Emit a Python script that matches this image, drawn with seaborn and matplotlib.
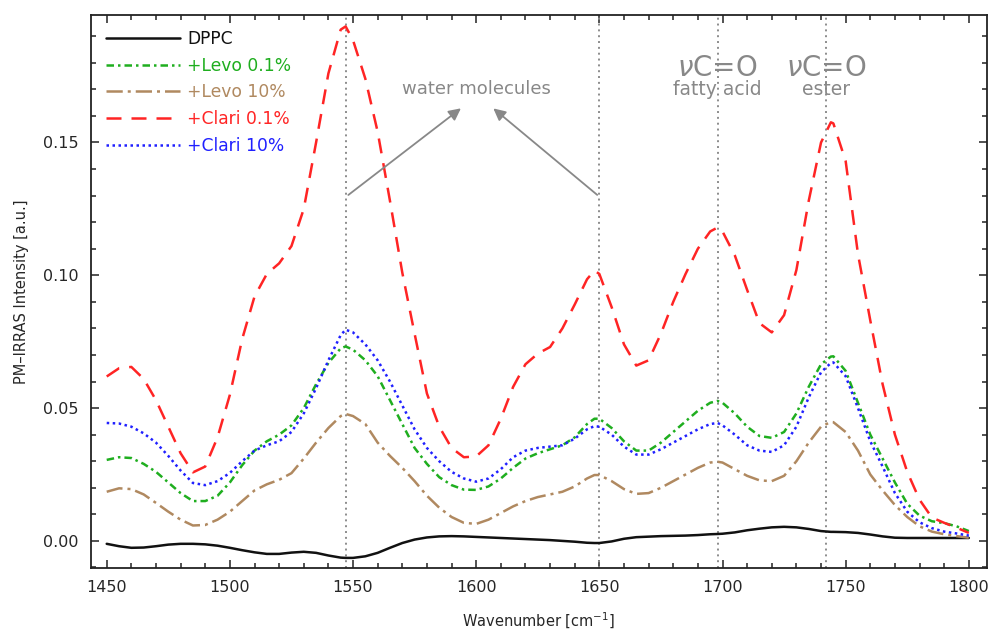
import matplotlib
matplotlib.use("Agg")
import matplotlib.pyplot as plt
from matplotlib.ticker import MultipleLocator
import pandas as pd
import seaborn as sns

# wavenumbers (cm^-1)
wn = [1450, 1455, 1460, 1465, 1470, 1475, 1480, 1485, 1490, 1495,
      1500, 1505, 1510, 1515, 1520, 1525, 1530, 1535, 1540, 1545,
      1547, 1550, 1555, 1560, 1565, 1570, 1575, 1580, 1585, 1590,
      1595, 1600, 1605, 1610, 1615, 1620, 1625, 1630, 1635, 1640,
      1645, 1648, 1650, 1655, 1660, 1665, 1670, 1675, 1680, 1685,
      1690, 1695, 1698, 1700, 1705, 1710, 1715, 1720, 1725, 1730,
      1735, 1740, 1744, 1745, 1750, 1755, 1760, 1765, 1770, 1775,
      1780, 1785, 1790, 1795, 1800]

dppc = [-0.0011, -0.0020, -0.0026, -0.0025, -0.0020, -0.0014, -0.0011, -0.0011, -0.0013, -0.0018,
        -0.0026, -0.0035, -0.0043, -0.0049, -0.0049, -0.0044, -0.0041, -0.0045, -0.0055, -0.0063,
        -0.0064, -0.0064, -0.0058, -0.0045, -0.0026, -0.0008, 0.0005, 0.0013, 0.0017, 0.0018,
        0.0017, 0.0015, 0.0013, 0.0011, 0.0009, 0.0007, 0.0005, 0.0003, 0.0000, -0.0003,
        -0.0007, -0.0008, -0.0008, -0.0002, 0.0008, 0.0014, 0.0016, 0.0018, 0.0019, 0.0020,
        0.0022, 0.0025, 0.0026, 0.0027, 0.0032, 0.0040, 0.0046, 0.0051, 0.0053, 0.0051,
        0.0045, 0.0037, 0.0034, 0.0034, 0.0033, 0.0030, 0.0024, 0.0017, 0.0012, 0.0011,
        0.0011, 0.0011, 0.0011, 0.0011, 0.0011]

levo_01 = [0.0305, 0.0315, 0.0312, 0.0290, 0.0260, 0.0220, 0.0180, 0.0150, 0.0150, 0.0170,
           0.0220, 0.0285, 0.0340, 0.0375, 0.0400, 0.0435, 0.0500, 0.0590, 0.0670, 0.0725,
           0.0732, 0.0720, 0.0680, 0.0620, 0.0530, 0.0440, 0.0350, 0.0290, 0.0240, 0.0210,
           0.0193, 0.0192, 0.0205, 0.0235, 0.0275, 0.0310, 0.0330, 0.0345, 0.0360, 0.0390,
           0.0440, 0.0460, 0.0460, 0.0425, 0.0375, 0.0340, 0.0340, 0.0370, 0.0410, 0.0450,
           0.0490, 0.0520, 0.0527, 0.0520, 0.0480, 0.0430, 0.0395, 0.0388, 0.0410, 0.0480,
           0.0580, 0.0665, 0.0694, 0.0695, 0.0640, 0.0520, 0.0400, 0.0310, 0.0220, 0.0140,
           0.0095, 0.0074, 0.0067, 0.0055, 0.0037]

levo_10 = [0.0185, 0.0198, 0.0195, 0.0175, 0.0143, 0.0110, 0.0080, 0.0058, 0.0060, 0.0080,
           0.0110, 0.0150, 0.0190, 0.0213, 0.0230, 0.0255, 0.0310, 0.0370, 0.0425, 0.0470,
           0.0478, 0.0470, 0.0440, 0.0370, 0.0320, 0.0275, 0.0225, 0.0170, 0.0125, 0.0090,
           0.0068, 0.0064, 0.0080, 0.0105, 0.0130, 0.0150, 0.0165, 0.0175, 0.0185, 0.0205,
           0.0235, 0.0248, 0.0248, 0.0225, 0.0195, 0.0177, 0.0180, 0.0200, 0.0225, 0.0250,
           0.0275, 0.0295, 0.0298, 0.0295, 0.0270, 0.0245, 0.0228, 0.0225, 0.0245, 0.0300,
           0.0370, 0.0430, 0.0448, 0.0447, 0.0410, 0.0340, 0.0250, 0.0190, 0.0135, 0.0090,
           0.0055, 0.0035, 0.0025, 0.0018, 0.0012]

clari_01 = [0.0619, 0.0650, 0.0655, 0.0610, 0.0530, 0.0430, 0.0330, 0.0258, 0.0280, 0.0390,
            0.0550, 0.0760, 0.0920, 0.1005, 0.1045, 0.1110, 0.1250, 0.1500, 0.1760, 0.1925,
            0.1937, 0.1885, 0.1740, 0.1540, 0.1280, 0.1010, 0.0780, 0.0555, 0.0430, 0.0350,
            0.0315, 0.0318, 0.0360, 0.0460, 0.0580, 0.0665, 0.0705, 0.0730, 0.0800, 0.0890,
            0.0985, 0.1018, 0.1005, 0.0880, 0.0740, 0.0660, 0.0680, 0.0780, 0.0900, 0.1005,
            0.1100, 0.1165, 0.1180, 0.1165, 0.1075, 0.0945, 0.0820, 0.0785, 0.0850, 0.1020,
            0.1280, 0.1500, 0.1576, 0.1572, 0.1430, 0.1080, 0.0830, 0.0590, 0.0400, 0.0260,
            0.0155, 0.0088, 0.0068, 0.0050, 0.0030]

clari_10 = [0.0444, 0.0442, 0.0430, 0.0405, 0.0370, 0.0320, 0.0265, 0.0218, 0.0210, 0.0225,
            0.0256, 0.0300, 0.0340, 0.0360, 0.0375, 0.0410, 0.0480, 0.0575, 0.0680, 0.0775,
            0.0795, 0.0785, 0.0740, 0.0680, 0.0600, 0.0510, 0.0420, 0.0350, 0.0300, 0.0260,
            0.0235, 0.0223, 0.0235, 0.0270, 0.0315, 0.0340, 0.0350, 0.0355, 0.0360, 0.0385,
            0.0420, 0.0432, 0.0430, 0.0400, 0.0355, 0.0325, 0.0325, 0.0345, 0.0370, 0.0395,
            0.0420, 0.0440, 0.0444, 0.0435, 0.0400, 0.0360, 0.0340, 0.0335, 0.0360, 0.0430,
            0.0540, 0.0635, 0.0670, 0.0672, 0.0620, 0.0500, 0.0375, 0.0280, 0.0180, 0.0110,
            0.0070, 0.0048, 0.0035, 0.0028, 0.0020]

samples = ["DPPC", "+Levo 0.1%", "+Levo 10%", "+Clari 0.1%", "+Clari 10%"]
colors = ["#111111", "#1fae1f", "#b08960", "#ff2424", "#2020ff"]
dash_styles = ["", (3, 1.6, 1, 1.6), (6.5, 2, 1.2, 2), (6, 4), (1, 1.4)]

# marker positions (vertical dotted lines)
band_pos = [1547.2, 1650, 1698, 1742]

df = pd.concat([
    pd.DataFrame({"wn": wn, "val": v, "sample": s})
    for s, v in zip(samples, [dppc, levo_01, levo_10, clari_01, clari_10])
])

sns.set_style("ticks")
plt.rcParams["font.family"] = ["DejaVu Sans"]

fig = plt.figure(figsize=(9.94, 6.33), dpi=100)
ax = fig.add_axes([0.0915, 0.1027, 0.9015, 0.8736])

for xb in band_pos:
    ax.axvline(xb, color="#8c8c8c", linestyle=(0, (1, 2)), linewidth=1.4, zorder=1)

sns.lineplot(data=df, x="wn", y="val", hue="sample", style="sample",
             palette=dict(zip(samples, colors)),
             dashes=dict(zip(samples, dash_styles)),
             hue_order=samples, style_order=samples,
             linewidth=1.8, ax=ax, zorder=3)

ax.set_xlim(1443.6, 1807.4)
ax.set_ylim(-0.0102, 0.198)
ax.xaxis.set_major_locator(MultipleLocator(50))
ax.xaxis.set_minor_locator(MultipleLocator(10))
ax.yaxis.set_major_locator(MultipleLocator(0.05))
ax.yaxis.set_minor_locator(MultipleLocator(0.01))
ax.yaxis.set_major_formatter(matplotlib.ticker.FormatStrFormatter("%.2f"))
ax.tick_params(which="both", direction="in", top=True, right=True, width=1.1,
               labelsize=11.5, color="#222222")
ax.tick_params(which="major", length=6, pad=9)
ax.tick_params(which="minor", length=3.5)
for sp in ax.spines.values():
    sp.set_linewidth(1.3)
    sp.set_color("#222222")

ax.set_xlabel("Wavenumber [cm$^{-1}$]", fontsize=10.5, labelpad=11)
ax.set_ylabel("PM\u2013IRRAS Intensity [a.u.]", fontsize=10.5, labelpad=10)

handles, labels = ax.get_legend_handles_labels()
ax.legend(handles, labels, loc="upper left", bbox_to_anchor=(0.0, 1.0),
          frameon=False, fontsize=12.3, handlelength=4.3, handletextpad=0.45,
          labelspacing=0.5, borderaxespad=0.5, labelcolor="linecolor")

# annotations
grey = "#888888"
ax.text(1600, 0.170, "water molecules", color=grey, fontsize=13,
        ha="center", va="center")
arrow = dict(arrowstyle="-|>", color=grey, lw=1.3, mutation_scale=18)
ax.annotate("", xy=(1594.7, 0.1635), xytext=(1547.2, 0.1296), arrowprops=arrow)
ax.annotate("", xy=(1606.1, 0.1635), xytext=(1650, 0.1296), arrowprops=arrow)
for xb, sub in [(1698, "fatty acid"), (1742, "ester")]:
    ax.text(xb, 0.1782, r"$\nu$C=O", color=grey, fontsize=20,
            ha="center", va="center")
    ax.text(xb, 0.1698, sub, color=grey, fontsize=13.5, ha="center", va="center")

fig.savefig("out.png", dpi=100)
